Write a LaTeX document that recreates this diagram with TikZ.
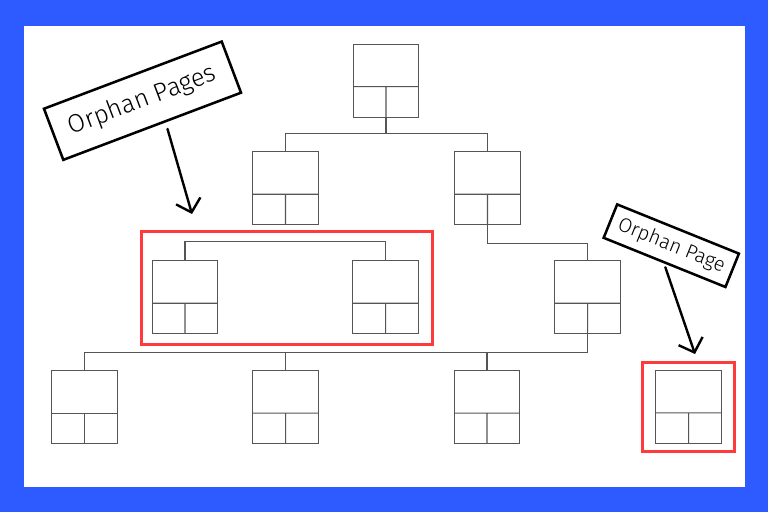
\documentclass[tikz,border=0pt]{standalone}
\usepackage{fontspec}
\newfontfamily\handfont{Fira Sans Light}
\usepackage{tikz}
\usetikzlibrary{arrows.meta,calc,fit}
\definecolor{bgblue}{RGB}{45,91,255}
\definecolor{framered}{RGB}{255,58,58}
\definecolor{boxgray}{RGB}{85,85,85}

\begin{document}
\begin{tikzpicture}[x=0.75pt,y=-0.75pt,
    conn/.style={draw=boxgray,line width=0.8pt},
    page/.style={draw=boxgray,line width=0.8pt,minimum width=49.2pt,minimum height=54.75pt,inner sep=0pt,
      path picture={
        \draw[boxgray,line width=0.8pt]
          ($(path picture bounding box.north west)!0.58!(path picture bounding box.south west)$) --
          ($(path picture bounding box.north east)!0.58!(path picture bounding box.south east)$)
          ($(path picture bounding box.north)!0.58!(path picture bounding box.south)$) --
          (path picture bounding box.south);}},
    tag/.style={draw=black,line width=1.9pt,fill=white,inner sep=0pt,text=black},
    redframe/.style={draw=framered,line width=2pt,inner sep=0pt},
    hand/.style={line width=1.8pt,-{Straight Barb[length=9pt,width=19pt]},line cap=round}]
  % background
  \fill[bgblue] (0,0) rectangle (768,512);
  \fill[white] (24,26) rectangle (745,487);

  % pages
  \node[page] (root)  at (386,80.7)    {};
  \node[page] (left)  at (285.5,188.4) {};
  \node[page] (right) at (487.5,188.4) {};
  \node[page] (orphA) at (185,297.4)   {};
  \node[page] (orphB) at (385.7,297.4) {};
  \node[page] (mid)   at (587.7,297.4) {};
  \node[page] (leafA) at (84.3,407.2)  {};
  \node[page] (leafB) at (285.7,407.2) {};
  \node[page] (leafC) at (487,407.2)   {};
  \node[page] (lone)  at (688.7,407)   {};

  % links
  \draw[conn] (root.south) -- ++(0,16) -| (left.north);
  \draw[conn] (root.south) -- ++(0,16) -| (right.north);
  \draw[conn] (right.south) -- ++(0,17.6) -| (mid.north);
  \draw[conn] (orphA.north) -- ++(0,-19.3) -| (orphB.north);
  \foreach \leaf in {leafA,leafB,leafC}
    \draw[conn] (mid.south) -- ++(0,18.5) -| (\leaf.north);

  % orphan frames
  \coordinate (grptop) at (287.5,241.7);
  \coordinate (grpright) at (422.7,297.4);
  \node[redframe,inner xsep=7.5pt,inner ysep=7.5pt,fit=(orphA)(orphB)(grptop)(grpright)] (grpA) {};
  \node[redframe,inner xsep=9.5pt,inner ysep=5.5pt,fit=(lone)] (grpB) {};

  % labels
  \node[tag,rotate=20.7,minimum width=142.5pt,minimum height=41pt,font=\handfont\fontsize{19}{22}\selectfont]
    (tagA) at (142.5,100.7) {Orphan Pages};
  \node[tag,rotate=-22,minimum width=98.5pt,minimum height=27pt,font=\handfont\fontsize{15}{18}\selectfont]
    (tagB) at (671.3,245.7) {Orphan Page};

  \coordinate (tipA) at (192,214);
  \coordinate (tipB) at (695,354);
  \draw[hand,shorten <=5pt] (tagA.-64) -- (tipA);
  \draw[hand,shorten <=3pt] (tagB.south) -- (tipB);
\end{tikzpicture}
\end{document}
